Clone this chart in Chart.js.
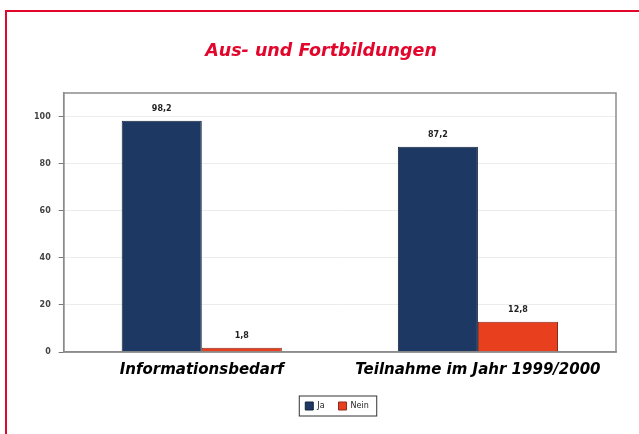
<!DOCTYPE html>
<html>
<head>
<meta charset="utf-8">
<script src="https://cdn.jsdelivr.net/npm/chart.js@4"></script>
<style>
  html, body { margin: 0; padding: 0; background: #fff; }
  #wrap { position: relative; width: 639px; height: 434px; overflow: hidden; }
  #frame { position: absolute; left: 5px; top: 10px; width: 700px; height: 500px; border: 2px solid #e2062c; }
  #myChart { position: absolute; left: 0; top: 0; }
</style>
</head>
<body>
<div id="wrap">
  <div id="frame"></div>
  <canvas id="myChart" width="639" height="434"></canvas>
</div>
<script>
const categories = ["Informationsbedarf", "Teilnahme im Jahr 1999/2000"];
const seriesNames = ["Ja", "Nein"];
const jaValues = [98.2, 87.2];
const neinValues = [1.8, 12.8];
const yTicks = [0, 20, 40, 60, 80, 100];

// frame around plot area + value labels + legend box
const extras = {
  id: "extras",
  afterLayout(chart) {
    // legend sits centred under the plot area, not the whole canvas
    chart.legend.left += 16;
    chart.legend.right += 16;
  },
  afterDraw(chart) {
    const c = chart.ctx;
    const a = chart.chartArea;
    c.save();
    c.strokeStyle = "#8c8c8c";
    c.lineWidth = 1.5;
    c.strokeRect(a.left, a.top, a.right - a.left, a.bottom - a.top);

    c.font = "bold 8px 'DejaVu Sans'";
    c.fillStyle = "#222";
    c.textAlign = "center";
    c.textBaseline = "bottom";
    chart.data.datasets.forEach((ds, i) => {
      chart.getDatasetMeta(i).data.forEach((bar, j) => {
        c.fillText(String(ds.data[j]).replace(".", ","), bar.x, bar.y - 8);
      });
    });

    const boxes = chart.legend.legendHitBoxes;
    if (boxes.length) {
      let l = Infinity, r = -Infinity, t = Infinity, b = -Infinity;
      boxes.forEach(h => {
        l = Math.min(l, h.left); r = Math.max(r, h.left + h.width);
        t = Math.min(t, h.top); b = Math.max(b, h.top + h.height);
      });
      c.strokeStyle = "#333";
      c.lineWidth = 1;
      c.strokeRect(l - 6, t - 6, r - l + 14, b - t + 12);
    }
    c.restore();
  }
};

new Chart(document.getElementById("myChart"), {
  type: "bar",
  data: {
    labels: categories,
    datasets: [
      {
        label: seriesNames[0],
        data: jaValues,
        backgroundColor: "#1d3862",
        borderColor: "#16243a",
        borderWidth: 1,
        categoryPercentage: 0.58,
        barPercentage: 1.0,
      },
      {
        label: seriesNames[1],
        data: neinValues,
        backgroundColor: "#e8401f",
        borderColor: "#8a2a1a",
        borderWidth: 1,
        categoryPercentage: 0.58,
        barPercentage: 1.0,
      },
    ],
  },
  options: {
    responsive: false,
    animation: false,
    layout: { padding: { left: 26, right: 23, top: 0, bottom: 14 } },
    plugins: {
      title: {
        display: true,
        text: "Aus- und Fortbildungen",
        color: "#e2062c",
        font: { family: "'DejaVu Sans'", size: 17.5, weight: "bold", style: "italic" },
        padding: { top: 41, bottom: 31 },
      },
      legend: {
        position: "bottom",
        labels: {
          boxWidth: 8,
          boxHeight: 8,
          padding: 14,
          color: "#222",
          font: { family: "'DejaVu Sans'", size: 8 },
        },
      },
      tooltip: { enabled: false },
    },
    scales: {
      x: {
        grid: { display: false, drawTicks: false },
        border: { color: "#8c8c8c", width: 1.5 },
        ticks: {
          padding: 9,
          color: "#000",
          font: { family: "'DejaVu Sans'", size: 15, weight: "bold", style: "italic" },
        },
      },
      y: {
        min: 0,
        max: 110,
        afterBuildTicks(axis) {
          axis.ticks = yTicks.map(v => ({ value: v }));
        },
        grid: { color: "#ececec", tickColor: "#777", tickLength: 5 },
        border: { color: "#8c8c8c", width: 1.5 },
        ticks: {
          padding: 8,
          color: "#444",
          font: { family: "'DejaVu Sans'", size: 8, weight: "bold" },
        },
      },
    },
  },
  plugins: [extras],
});
</script>
</body>
</html>
